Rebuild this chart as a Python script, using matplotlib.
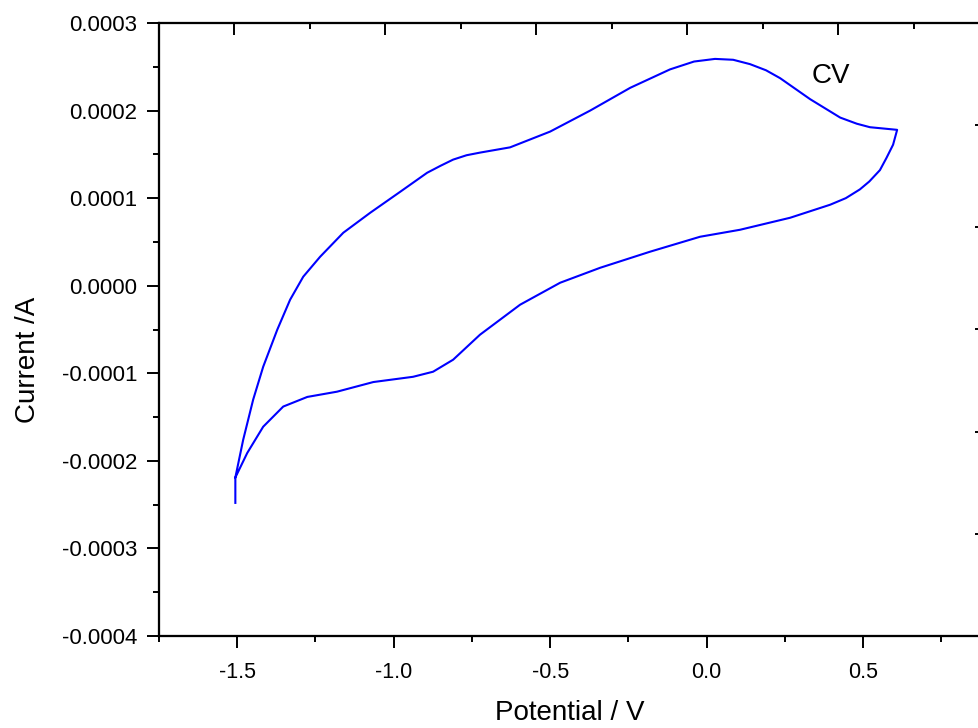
import numpy as np
import matplotlib
matplotlib.use("Agg")
import matplotlib.pyplot as plt
from matplotlib.ticker import MultipleLocator, FormatStrFormatter

# cyclic voltammogram (V, A)
# forward sweep: start tail at -1.5 V, up along the upper branch to +0.61 V
fwd_v = [-1.506, -1.506, -1.481, -1.449, -1.417, -1.372, -1.331, -1.289, -1.235,
         -1.161, -1.075, -0.979, -0.893, -0.850, -0.810, -0.767, -0.724, -0.628,
         -0.500, -0.372, -0.244, -0.117, -0.040, 0.027, 0.085, 0.139, 0.190,
         0.235, 0.331, 0.427, 0.480, 0.522, 0.609]
fwd_i = [-0.000248, -0.000219, -0.000176, -0.000130, -0.0000925, -0.0000502,
         -0.000016, 0.0000103, 0.0000331, 0.0000605, 0.0000833, 0.0001073,
         0.000129, 0.000137, 0.000144, 0.000149, 0.000152, 0.000158, 0.000176,
         0.000200, 0.000226, 0.000247, 0.000256, 0.000259, 0.000258, 0.000253,
         0.000246, 0.000237, 0.000213, 0.000192, 0.000185, 0.000181, 0.000178]
# reverse sweep: back from +0.61 V along the lower branch
rev_v = [0.596, 0.575, 0.554, 0.520, 0.490, 0.445, 0.395, 0.267, 0.107, -0.021,
         -0.181, -0.340, -0.468, -0.596, -0.724, -0.810, -0.874, -0.938, -1.065,
         -1.181, -1.276, -1.353, -1.417, -1.468, -1.506]
rev_i = [0.000161, 0.000146, 0.000132, 0.000119, 0.000110, 0.000100,
         0.0000925, 0.0000776, 0.0000639, 0.0000559, 0.0000388, 0.0000205,
         0.0000034, -0.0000217, -0.0000559, -0.0000845, -0.0000982, -0.000104,
         -0.000110, -0.000121, -0.000127, -0.000138, -0.000161, -0.000191,
         -0.000219]

plt.rcParams['font.family'] = ['Liberation Sans', 'DejaVu Sans']
plt.rcParams['axes.unicode_minus'] = False

W, H = 979, 728
fig = plt.figure(figsize=(W / 100, H / 100), dpi=100)
# the original is cropped on the right, so the axes run past the figure edge
ax = fig.add_axes([159 / W, 1 - 636 / H, (981 - 159) / W, (636 - 23) / H])

v = np.array(fwd_v + rev_v)
i = np.array(fwd_i + rev_i)
ax.plot(v, i, color='#0000ff', lw=1.5, solid_joinstyle='round')

ax.set_xlim(-1.75, 0.877)
ax.set_ylim(-0.0004, 0.0003)
ax.xaxis.set_major_locator(MultipleLocator(0.5))
ax.xaxis.set_minor_locator(MultipleLocator(0.25))
ax.yaxis.set_major_locator(MultipleLocator(0.0001))
ax.yaxis.set_minor_locator(MultipleLocator(0.00005))
ax.xaxis.set_major_formatter(FormatStrFormatter('%.1f'))
ax.yaxis.set_major_formatter(FormatStrFormatter('%.4f'))
ax.tick_params(which='both', direction='out', width=1.4, top=False, right=False)
ax.tick_params(which='major', length=8.6)
ax.tick_params(which='minor', length=4.3)
ax.tick_params(axis='x', labelsize=15.5, pad=10)
ax.tick_params(axis='y', labelsize=16, pad=7)
for s in ax.spines.values():
    s.set_linewidth(1.5)

ax.set_xlabel('Potential / V', fontsize=20)
ax.set_ylabel('Current /A', fontsize=20)
ax.xaxis.set_label_coords(0.5, -0.104)
ax.yaxis.set_label_coords(-0.144, 0.45)
ax.text(0.337, 0.000231, 'CV', fontsize=20)

# extra top / right scales left over from the original layer (ticks only)
top = ax.twiny()
top.set_xlim(-0.497, 4.947)
top.xaxis.set_major_locator(MultipleLocator(1))
top.xaxis.set_minor_locator(MultipleLocator(0.5))
top.tick_params(which='both', direction='in', width=1.4, labeltop=False)
top.tick_params(which='major', length=8.6)
top.tick_params(which='minor', length=4.3)

right = ax.twinx()
right.set_ylim(0, 6)
right.yaxis.set_major_locator(MultipleLocator(1))
right.tick_params(which='both', direction='in', width=1.4, length=4.3,
                  labelright=False)
for a in (top, right):
    for s in a.spines.values():
        s.set_linewidth(1.5)

fig.savefig('out.png', dpi=100)
